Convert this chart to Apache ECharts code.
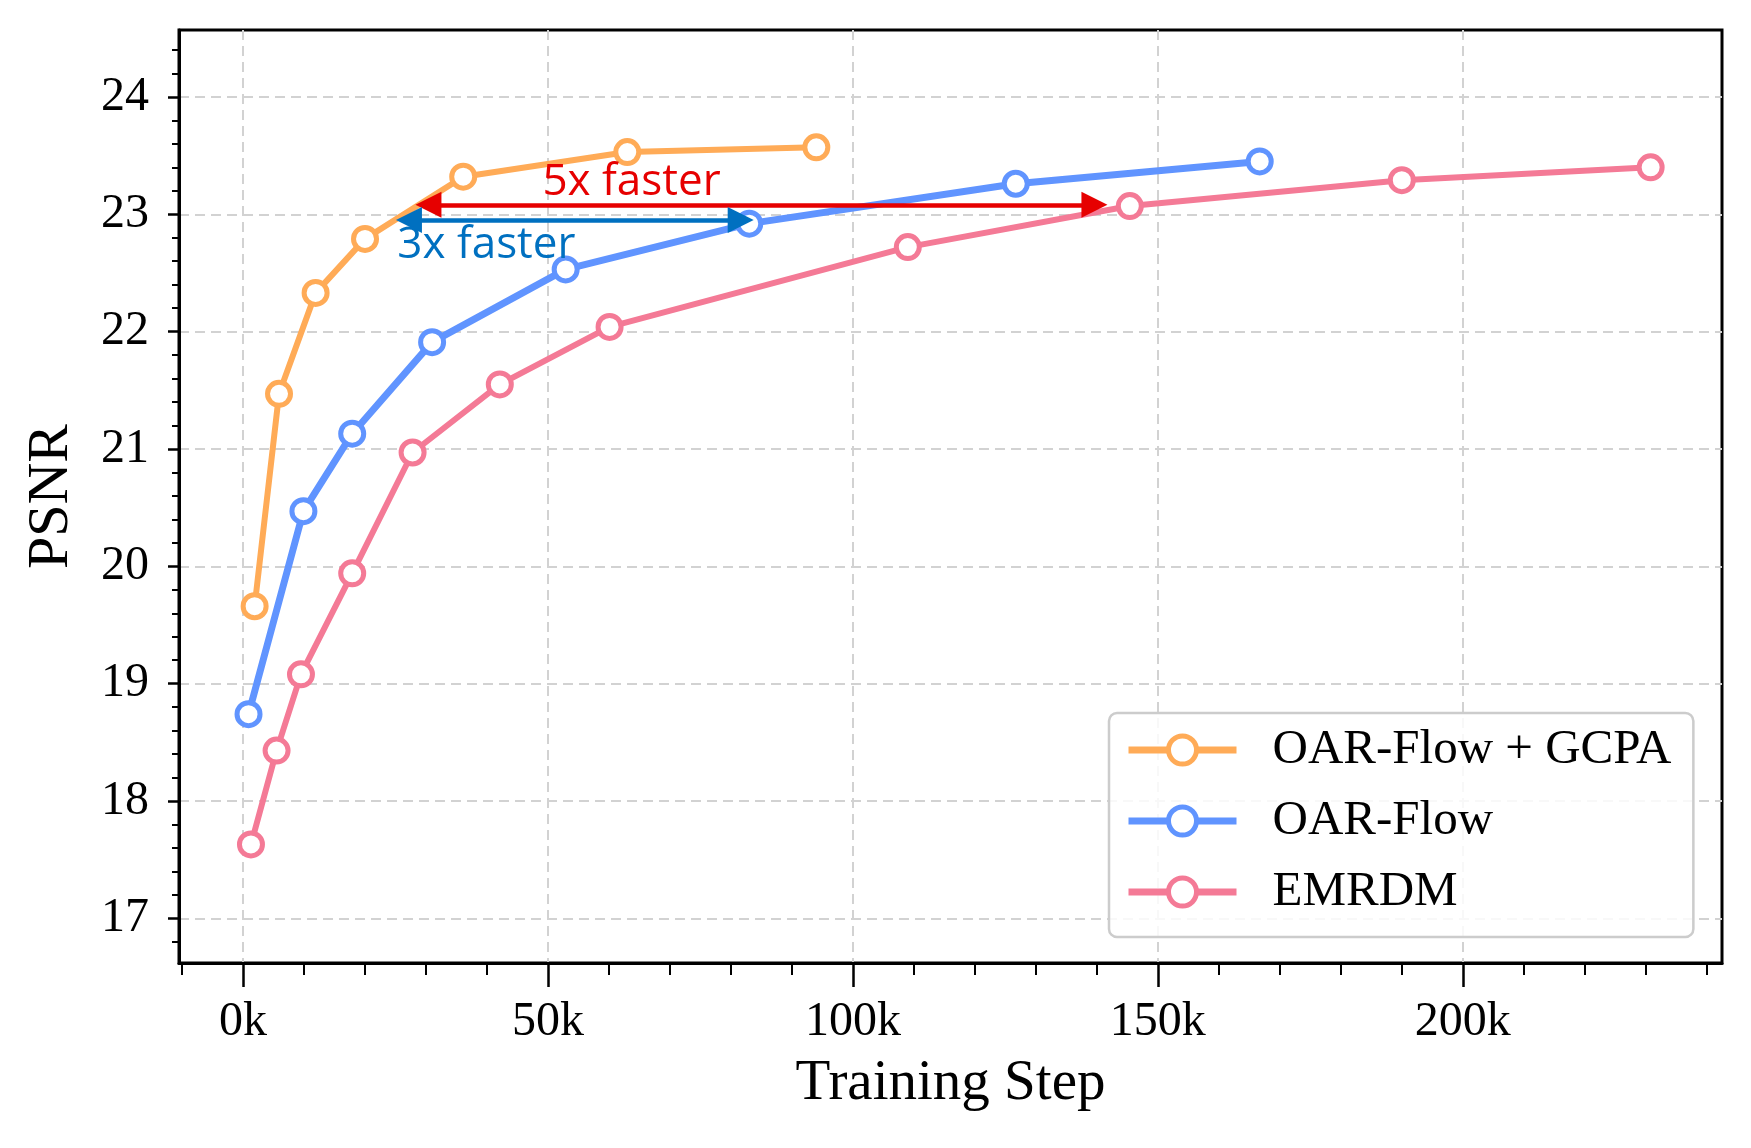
<!DOCTYPE html>
<html>
<head>
<meta charset="utf-8">
<script src="https://cdn.jsdelivr.net/npm/echarts@6/dist/echarts.min.js"></script>
<style>
  html, body { margin: 0; padding: 0; background: #fff; }
  #chart { width: 1751px; height: 1148px; }
</style>
</head>
<body>
<div id="chart"></div>
<script>
// training steps (k) and PSNR per method
const gcpaSteps = [1.9, 5.9, 11.9, 20.0, 36.1, 63.0, 94.0]
const gcpaPsnr = [19.66, 21.47, 22.33, 22.79, 23.32, 23.53, 23.57]
const flowSteps = [0.9, 9.9, 17.9, 31.0, 52.9, 83.0, 126.7, 166.7]
const flowPsnr = [18.74, 20.47, 21.13, 21.91, 22.53, 22.92, 23.26, 23.45]
const emrdmSteps = [1.3, 5.5, 9.5, 17.9, 27.8, 42.1, 60.1, 109.0, 145.4, 190.0, 230.8]
const emrdmPsnr = [17.63, 18.43, 19.08, 19.94, 20.97, 21.55, 22.04, 22.72, 23.07, 23.29, 23.40]

// tick labels
const xMajor = [0, 50, 100, 150, 200]
const xMinor = [-10, 10, 20, 30, 40, 60, 70, 80, 90, 110, 120, 130, 140, 160, 170, 180, 190, 210, 220, 230, 240]
const yMajor = [17, 18, 19, 20, 21, 22, 23, 24]
const yMinor = [16.8, 17.2, 17.4, 17.6, 17.8, 18.2, 18.4, 18.6, 18.8, 19.2, 19.4, 19.6, 19.8,
  20.2, 20.4, 20.6, 20.8, 21.2, 21.4, 21.6, 21.8, 22.2, 22.4, 22.6, 22.8, 23.2, 23.4, 23.6, 23.8, 24.2, 24.4]

const names = ['OAR-Flow + GCPA', 'OAR-Flow', 'EMRDM']
const colors = ['#FFAB57', '#6094FF', '#F47A96']

const zip = (xs, ys) => xs.map((x, i) => [x, ys[i]])
const serif = 'Liberation Serif, Times New Roman, serif'
const gridLine = { show: true, lineStyle: { color: '#d2d2d2', width: 2, type: [10, 6] } }

function lineSeries(i, data, extra) {
  return Object.assign({
    name: names[i],
    type: 'line',
    data: data,
    symbol: 'circle',
    symbolSize: 23,
    color: colors[i],
    lineStyle: { color: colors[i], width: 6 },
    itemStyle: { color: '#fff', borderColor: colors[i], borderWidth: 5 },
    emphasis: { disabled: true }
  }, extra || {})
}

const chart = echarts.init(document.getElementById('chart'))
chart.setOption({
  animation: false,
  grid: {
    left: 179, right: 29, top: 30, bottom: 185,
    show: true, borderColor: '#000', borderWidth: 3
  },
  legend: {
    orient: 'vertical',
    left: 1109,
    top: 713,
    padding: [12, 22, 20, 16],
    backgroundColor: 'rgba(255,255,255,0.85)',
    borderColor: '#cccccc',
    borderWidth: 2.5,
    borderRadius: 8,
    itemWidth: 108,
    itemHeight: 35,
    itemGap: 21,
    lineStyle: { width: 7 },
    itemStyle: { borderWidth: 5 },
    textStyle: { fontFamily: serif, fontSize: 49, color: '#000', padding: [0, 0, 0, 31], lineHeight: 50 },
    data: names
  },
  xAxis: [
    {
      type: 'value', min: -10.5, max: 242.5,
      name: 'Training Step', nameLocation: 'middle', nameGap: 93,
      nameTextStyle: { fontFamily: serif, fontSize: 57, color: '#000' },
      axisLine: { show: true, onZero: false, lineStyle: { color: '#000', width: 3 } },
      axisTick: { show: true, length: 24, lineStyle: { color: '#000', width: 2.5 }, customValues: xMajor },
      axisLabel: { customValues: xMajor, formatter: '{value}k', margin: 35, fontFamily: serif, fontSize: 48, color: '#000' },
      splitLine: gridLine
    },
    {
      type: 'value', min: -10.5, max: 242.5, position: 'bottom', offset: 0,
      axisLine: { show: false, onZero: false },
      axisTick: { show: true, length: 12, lineStyle: { color: '#000', width: 2 }, customValues: xMinor },
      axisLabel: { show: false },
      splitLine: { show: false }
    }
  ],
  yAxis: [
    {
      type: 'value', min: 16.62, max: 24.57, position: 'left',
      name: 'PSNR', nameLocation: 'middle', nameGap: 98,
      nameTextStyle: { fontFamily: serif, fontSize: 58, color: '#000' },
      axisLine: { show: true, onZero: false, lineStyle: { color: '#000', width: 3 } },
      axisTick: { show: true, length: 11, lineStyle: { color: '#000', width: 2.5 }, customValues: yMajor },
      axisLabel: { customValues: yMajor, margin: 30, fontFamily: serif, fontSize: 48, color: '#000' },
      splitLine: gridLine
    },
    {
      type: 'value', min: 16.62, max: 24.57, position: 'left', offset: 0,
      axisLine: { show: false, onZero: false },
      axisTick: { show: true, length: 7, lineStyle: { color: '#000', width: 2 }, customValues: yMinor },
      axisLabel: { show: false },
      splitLine: { show: false }
    }
  ],
  series: [
    lineSeries(0, zip(gcpaSteps, gcpaPsnr), {
      // speed-up arrows and their captions
      markLine: {
        silent: true,
        symbol: ['triangle', 'triangle'],
        symbolSize: 26,
        label: { show: false },
        emphasis: { disabled: true },
        data: [
          [
            { coord: [30.4, 23.08], lineStyle: { color: '#E60000', width: 4.5, type: 'solid' } },
            { coord: [139.6, 23.08] }
          ],
          [
            { coord: [27.2, 22.95], lineStyle: { color: '#0070C0', width: 4.5, type: 'solid' } },
            { coord: [81.6, 22.95] }
          ]
        ]
      },
      markPoint: {
        silent: true,
        symbol: 'circle',
        symbolSize: 1,
        itemStyle: { color: 'rgba(0,0,0,0)' },
        label: { show: true, position: 'inside', formatter: '{b}', fontFamily: 'Open Sans', fontSize: 44 },
        data: [
          { name: '5x faster', coord: [63.7, 23.27], label: { color: '#E60000' } },
          { name: '3x faster', coord: [39.9, 22.73], label: { color: '#0070C0' } }
        ]
      }
    }),
    lineSeries(1, zip(flowSteps, flowPsnr), { lineStyle: { color: colors[1], width: 7 } }),
    lineSeries(2, zip(emrdmSteps, emrdmPsnr))
  ]
})
</script>
</body>
</html>
